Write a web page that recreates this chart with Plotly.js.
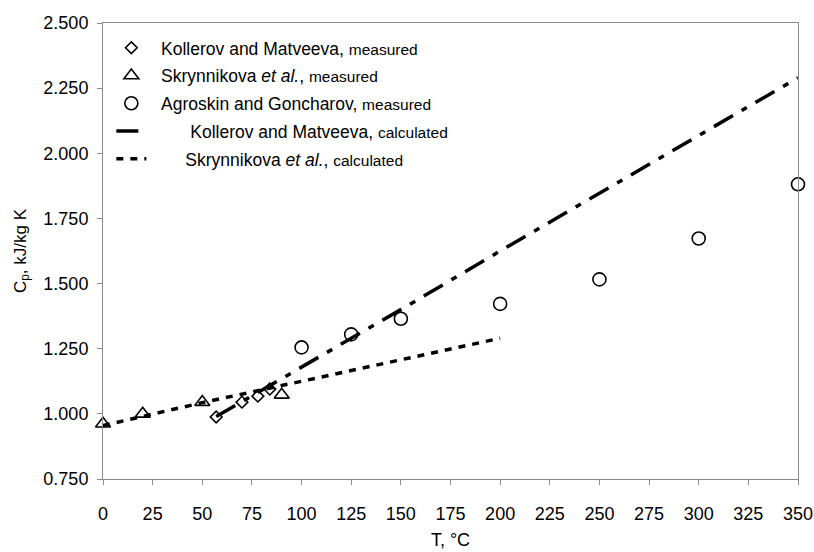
<!DOCTYPE html>
<html>
<head>
<meta charset="utf-8">
<script src="https://cdn.plot.ly/plotly-3.0.1.min.js"></script>
<style>
  html, body { margin: 0; padding: 0; background: #fff; }
  #chart { width: 814px; height: 552px; }
</style>
</head>
<body>
<div id="chart"></div>
<script>
// Kollerov and Matveeva, measured
const kmT  = [57, 70, 78, 84];
const kmCp = [0.988, 1.045, 1.068, 1.095];
// Skrynnikova et al., measured
const skT  = [0, 20, 50, 90];
const skCp = [0.962, 1.000, 1.045, 1.073];
// Agroskin and Goncharov, measured
const agT  = [100, 125, 150, 200, 250, 300, 350];
const agCp = [1.255, 1.305, 1.365, 1.422, 1.516, 1.673, 1.881];
// Kollerov and Matveeva, calculated
const kcT  = [57, 100, 150, 200, 250, 300, 350];
const kcCp = [0.990, 1.180, 1.400, 1.625, 1.846, 2.069, 2.290];
// Skrynnikova et al., calculated
const scT  = [0, 50, 100, 150, 200];
const scCp = [0.955, 1.043, 1.125, 1.208, 1.290];

const xTicks = [0, 25, 50, 75, 100, 125, 150, 175, 200, 225, 250, 275, 300, 325, 350];
const yTicks = [0.75, 1.0, 1.25, 1.5, 1.75, 2.0, 2.25, 2.5];
const yTickText = ['0.750', '1.000', '1.250', '1.500', '1.750', '2.000', '2.250', '2.500'];

const FONT = 'Liberation Sans, Arial, sans-serif';
const small = s => "<span style='font-size:15.5px'>" + s + "</span>";
const NB = '\u00A0';
const pad = n => NB.repeat(n);

const traces = [
  {
    x: kmT, y: kmCp, type: 'scatter', mode: 'markers', legendgroup: 'a',
    name: pad(2) + 'Kollerov and Matveeva, ' + small('measured'),
    marker: { symbol: 'diamond-open', size: 9, color: '#000', line: { width: 1.6, color: '#000' } },
    cliponaxis: false
  },
  {
    x: skT, y: skCp, type: 'scatter', mode: 'markers', legendgroup: 'b',
    name: pad(2) + 'Skrynnikova <i>et al.</i>, ' + small('measured'),
    marker: { symbol: 'triangle-up-open', size: 13, color: '#000', line: { width: 1.6, color: '#000' } },
    cliponaxis: false
  },
  {
    x: agT, y: agCp, type: 'scatter', mode: 'markers', legendgroup: 'c',
    name: pad(2) + 'Agroskin and Goncharov, ' + small('measured'),
    marker: { symbol: 'circle-open', size: 13, color: '#000', line: { width: 1.6, color: '#000' } },
    cliponaxis: false
  },
  {
    x: kcT, y: kcCp, type: 'scatter', mode: 'lines', legendgroup: 'd',
    name: pad(8) + 'Kollerov and Matveeva, ' + small('calculated'),
    line: { color: '#000', width: 3.5, dash: '22px,10px,6px,10px' }
  },
  {
    x: scT, y: scCp, type: 'scatter', mode: 'lines', legendgroup: 'e',
    name: pad(7) + 'Skrynnikova <i>et al.</i>, ' + small('calculated'),
    line: { color: '#000', width: 3.5, dash: '7px,7px' }
  }
];

const layout = {
  width: 814, height: 552,
  margin: { l: 103, r: 16, t: 23, b: 73 },
  paper_bgcolor: '#fff', plot_bgcolor: '#fff',
  font: { family: FONT, size: 17, color: '#000' },
  showlegend: true,
  legend: {
    x: 0.012, y: 0.985, xanchor: 'left', yanchor: 'top',
    bgcolor: 'rgba(255,255,255,0)', borderwidth: 0,
    font: { family: FONT, size: 17.5, color: '#000' },
    traceorder: 'grouped', tracegroupgap: 2
  },
  xaxis: {
    range: [0, 350], tickvals: xTicks, ticktext: xTicks.map(String),
    showgrid: false, zeroline: false,
    showline: true, linecolor: '#8a8a8a', linewidth: 1, mirror: true,
    ticks: 'outside', ticklen: 5, tickcolor: '#8a8a8a', tickwidth: 1,
    tickfont: { family: FONT, size: 18, color: '#000' },
    ticklabelstandoff: 13,
    title: { text: 'T, °C', font: { family: FONT, size: 18, color: '#000' }, standoff: 10 }
  },
  yaxis: {
    range: [0.75, 2.5], tickvals: yTicks, ticktext: yTickText,
    showgrid: false, zeroline: false,
    showline: true, linecolor: '#8a8a8a', linewidth: 1, mirror: true,
    ticks: 'outside', ticklen: 5, tickcolor: '#8a8a8a', tickwidth: 1,
    tickfont: { family: FONT, size: 18, color: '#000' },
    ticklabelstandoff: 5,
    title: { text: 'C<sub>p</sub>, kJ/kg K', font: { family: FONT, size: 17, color: '#000' }, standoff: 12 }
  }
};

Plotly.newPlot('chart', traces, layout, { displayModeBar: false, staticPlot: true });
</script>
</body>
</html>
